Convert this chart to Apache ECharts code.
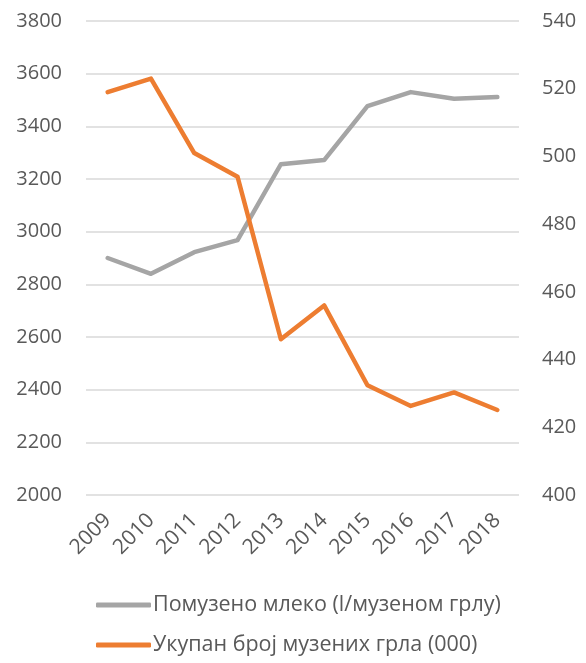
<!DOCTYPE html>
<html>
<head>
<meta charset="utf-8">
<script src="https://cdn.jsdelivr.net/npm/echarts@6/dist/echarts.min.js"></script>
<style>
  html, body { margin: 0; padding: 0; background: #fff; }
  #chart { width: 586px; height: 663px; }
</style>
</head>
<body>
<div id="chart"></div>
<script>
// categories (years)
const years = ['2009', '2010', '2011', '2012', '2013', '2014', '2015', '2016', '2017', '2018'];
// milk per milked head (left axis)
const milkPerHead = [2900, 2840, 2922, 2968, 3256, 3272, 3477, 3530, 3505, 3511];
// total milked heads, thousands (right axis)
const totalHeads = [519, 523, 501, 494, 446, 456, 432.4, 426.3, 430.3, 425.1];

const seriesNames = ['Помузено млеко (l/музеном грлу)', 'Укупан број музених грла (000)'];

const textColor = '#595959';
const fontFamily = '"Open Sans", sans-serif';

const chart = echarts.init(document.getElementById('chart'));
chart.setOption({
  animation: false,
  textStyle: { fontFamily: fontFamily },
  grid: { left: 86, right: 67, top: 21, bottom: 168 },
  legend: {
    orient: 'vertical',
    left: 96,
    top: 594,
    height: 100,
    padding: 0,
    itemWidth: 55,
    itemHeight: 5,
    itemGap: 18,
    icon: 'roundRect',
    textStyle: { color: textColor, fontSize: 21.5, fontFamily: fontFamily, padding: [0, 0, 0, -3] },
    data: seriesNames
  },
  xAxis: {
    type: 'category',
    data: years,
    boundaryGap: true,
    axisLine: { show: false },
    axisTick: { show: false },
    axisLabel: { rotate: 45, color: textColor, fontSize: 21, margin: 22 }
  },
  yAxis: [
    {
      type: 'value',
      min: 2000,
      max: 3800,
      interval: 200,
      axisLine: { show: false },
      axisTick: { show: false },
      axisLabel: { color: textColor, fontSize: 20, margin: 24, formatter: v => String(v) },
      splitLine: { lineStyle: { color: '#D9D9D9', width: 1.5 } }
    },
    {
      type: 'value',
      position: 'right',
      min: 400,
      max: 540,
      interval: 20,
      axisLine: { show: false },
      axisTick: { show: false },
      axisLabel: { color: textColor, fontSize: 20, margin: 23, formatter: v => String(v) },
      splitLine: { show: false }
    }
  ],
  series: [
    {
      name: seriesNames[0],
      type: 'line',
      yAxisIndex: 0,
      data: milkPerHead,
      showSymbol: false,
      symbol: 'none',
      itemStyle: { color: '#A5A5A5' },
      lineStyle: { color: '#A5A5A5', width: 4.5, cap: 'round', join: 'round' }
    },
    {
      name: seriesNames[1],
      type: 'line',
      yAxisIndex: 1,
      data: totalHeads,
      showSymbol: false,
      symbol: 'none',
      itemStyle: { color: '#ED7D31' },
      lineStyle: { color: '#ED7D31', width: 4.5, cap: 'round', join: 'round' }
    }
  ]
});
</script>
</body>
</html>
